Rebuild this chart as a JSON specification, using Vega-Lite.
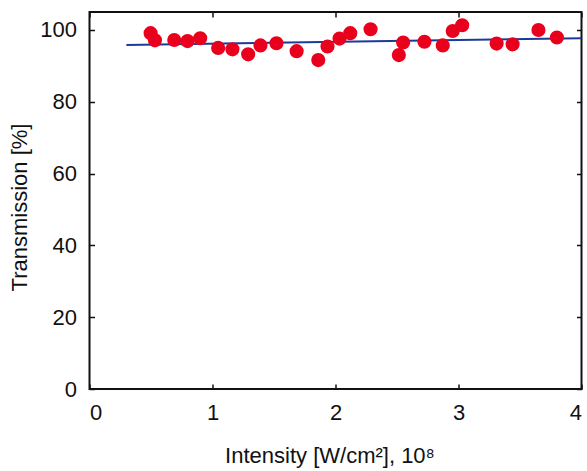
{
  "$schema": "https://vega.github.io/schema/vega-lite/v6.json",
  "autosize": "none",
  "width": 492,
  "height": 377,
  "padding": {"left": 89.5, "top": 12, "right": 5.5, "bottom": 82},
  "background": "white",
  "config": {
    "font": "Liberation Sans",
    "view": {"stroke": "#111111", "strokeWidth": 2},
    "axis": {"domain": false, "grid": false, "tickColor": "#111111", "tickSize": -5, "tickWidth": 1.5, "labelColor": "#111111", "titleColor": "#111111", "labelFont": "Liberation Sans", "titleFont": "Liberation Sans", "titleFontWeight": "normal"}
  },
  "datasets": {
    "pts": [
      {"x": 0.497, "y": 99.1}, {"x": 0.532, "y": 97.1}, {"x": 0.689, "y": 97.2}, {"x": 0.797, "y": 96.9},
      {"x": 0.900, "y": 97.7}, {"x": 1.046, "y": 95.0}, {"x": 1.162, "y": 94.6}, {"x": 1.290, "y": 93.2},
      {"x": 1.390, "y": 95.7}, {"x": 1.520, "y": 96.3}, {"x": 1.684, "y": 94.1}, {"x": 1.860, "y": 91.6},
      {"x": 1.935, "y": 95.4}, {"x": 2.033, "y": 97.6}, {"x": 2.120, "y": 99.1}, {"x": 2.285, "y": 100.2},
      {"x": 2.515, "y": 93.0}, {"x": 2.550, "y": 96.5}, {"x": 2.723, "y": 96.7}, {"x": 2.872, "y": 95.7},
      {"x": 2.953, "y": 99.7}, {"x": 3.030, "y": 101.3}, {"x": 3.310, "y": 96.2}, {"x": 3.440, "y": 96.0},
      {"x": 3.650, "y": 100.0}, {"x": 3.800, "y": 97.9}
    ],
    "fit": [{"x": 0.3, "y": 95.8}, {"x": 4.0, "y": 97.7}]
  },
  "layer": [
    {
      "data": {"name": "fit"},
      "mark": {"type": "line", "color": "#1c3a98", "strokeWidth": 2, "clip": true},
      "encoding": {
        "x": {"field": "x", "type": "quantitative", "scale": {"domain": [0, 4], "nice": false},
              "axis": {"orient": "bottom", "values": [0, 1, 2, 3, 4], "title": "Intensity [W/cm²], 10⁸", "labelFontSize": 22, "labelPadding": 18, "titleFontSize": 22, "titleX": 240, "titleY": 73, "titleBaseline": "alphabetic", "titleAlign": "center"}},
        "y": {"field": "y", "type": "quantitative", "scale": {"domain": [0, 105], "nice": false, "zero": false},
              "axis": {"orient": "left", "values": [0, 20, 40, 60, 80, 100], "title": "Transmission [%]", "labelFontSize": 22, "labelPadding": 18, "titleFontSize": 22, "titleX": -63, "titleY": 195, "titleAngle": -90, "titleBaseline": "alphabetic", "titleAlign": "center"}}
      }
    },
    {
      "data": {"name": "pts"},
      "mark": {"type": "circle", "color": "#e8001c", "opacity": 1, "size": 200},
      "encoding": {
        "x": {"field": "x", "type": "quantitative", "axis": {"orient": "top", "values": [0, 1, 2, 3, 4], "labels": false, "title": null}},
        "y": {"field": "y", "type": "quantitative", "axis": {"orient": "right", "values": [0, 20, 40, 60, 80, 100], "labels": false, "title": null}}
      }
    }
  ],
  "resolve": {"axis": {"x": "independent", "y": "independent"}}
}
